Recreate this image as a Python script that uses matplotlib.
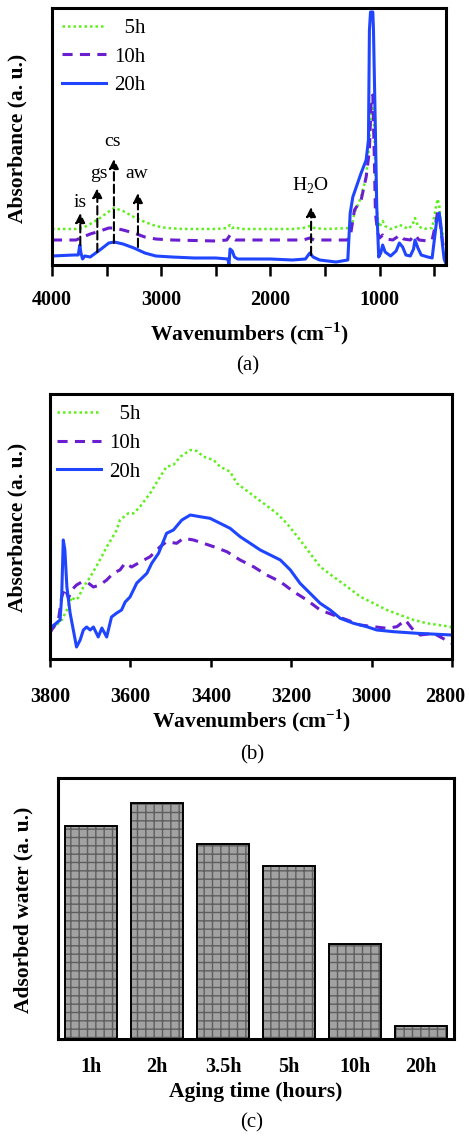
import matplotlib
matplotlib.use("Agg")
import matplotlib.pyplot as plt
from matplotlib.ticker import MultipleLocator, FixedLocator
from matplotlib.transforms import ScaledTranslation

plt.rcParams['font.family'] = ['Liberation Serif', 'DejaVu Serif']
plt.rcParams['mathtext.fontset'] = 'custom'
plt.rcParams['mathtext.rm'] = 'Liberation Serif'
plt.rcParams['mathtext.bf'] = 'Liberation Serif:bold'

# ---------------- data: panel (a) ----------------
wn_a_5h = [4000, 3780, 3720, 3650, 3560, 3500, 3430, 3350, 3250, 3150, 3050, 2950, 2800, 2500,
           2400, 2370, 2350, 2320, 2280, 2000, 1800, 1700, 1640, 1600, 1500, 1261, 1231, 1170,
           1124, 1100, 1084, 1072, 1057, 1045, 1033, 1018, 1003, 985, 973, 950, 900, 850, 820,
           790, 740, 700, 677, 650, 600, 520, 490, 470, 455, 440, 420, 400]
abs_a_5h = [36, 36, 37, 41, 47, 52, 57, 54, 48, 43, 39, 37, 36, 36,
            37, 40, 37, 38, 36, 36, 36, 37, 39, 37, 36, 37, 52, 68,
            88, 115, 142, 162, 155, 112, 65, 45, 38, 42, 44, 39, 36, 38, 40,
            39, 36, 40, 47, 39, 36, 37, 55, 66, 60, 40, 30, 28]

wn_a_10h = [4000, 3780, 3740, 3650, 3560, 3480, 3430, 3350, 3250, 3150, 3050, 2900, 2500, 2400,
            2370, 2350, 2320, 2000, 1700, 1640, 1600, 1300, 1270, 1231, 1170, 1124, 1094,
            1078, 1063, 1048, 1039, 1018, 1000, 973, 940, 880, 840, 820, 780, 720, 690, 677,
            640, 560, 520, 490, 470, 455, 440, 420, 400]
abs_a_10h = [25, 25, 27, 31, 34, 37, 37, 35, 32, 28, 26, 25, 24, 25,
             30, 27, 25, 25, 25, 27, 25, 25, 28, 55, 65, 88, 115,
             165, 170, 102, 52, 32, 27, 30, 26, 25, 28, 30, 26, 25, 29, 30,
             25, 24, 25, 40, 53, 50, 35, 20, 15]

wn_a_20h = [4000, 3800, 3760, 3745, 3735, 3720, 3700, 3650, 3600, 3550, 3480, 3430, 3350, 3250,
            3150, 3050, 2900, 2700, 2500, 2390, 2380, 2370, 2350, 2330, 2300, 2200, 2000, 1800,
            1680, 1640, 1610, 1550, 1400, 1292, 1270, 1246, 1170, 1124, 1103, 1094, 1084,
            1063, 1057, 1039, 1027, 1009, 990, 973, 950, 900, 850, 820, 790, 760, 720, 690,
            677, 650, 620, 560, 520, 500, 480, 455, 440, 425, 410, 400]
abs_a_20h = [9, 10, 10, 20, 12, 6, 9, 8, 12, 16, 22, 23, 21, 17,
             12, 9, 8, 7, 7, 6, 0, 16, 14, 8, 6, 6, 6, 5,
             6, 12, 8, 5, 3, 5, 52, 68, 92, 105, 125, 235, 253,
             253, 235, 132, 58, 8, 12, 20, 13, 9, 14, 22, 18, 10, 9, 16,
             25, 17, 10, 8, 7, 25, 43, 52, 40, 20, 6, 3]

arrow_wn = [3741, 3585, 3433, 3213, 1628]
arrow_base = [20, 13, 22, 18, 10]
arrow_tip = [52, 77, 106, 72, 58]
arrow_text = ['is', 'gs', 'cs', 'aw', 'H$_2$O']
text_wn = [3741, 3573, 3445, 3226, 1634]
text_h = [63, 92, 123, 92, 79]

# ---------------- data: panel (b) ----------------
wn_b_5h = [3800, 3796, 3771, 3758, 3746, 3738, 3730, 3717, 3700, 3680, 3659, 3634, 3626, 3605,
           3592, 3576, 3551, 3526, 3510, 3493, 3476, 3451, 3435, 3418, 3393, 3377, 3352, 3335,
           3302, 3269, 3236, 3211, 3178, 3153, 3128, 3095, 3061, 3028, 2995, 2962, 2929, 2895,
           2862, 2804, 2800]
abs_b_5h = [26, 29, 39, 49, 62, 59, 61, 72, 82, 96, 112, 129, 139, 145.7,
            145.7, 152.3, 165.7, 182.3, 192.3, 194, 202.3, 209, 208, 202.3, 199, 192.3, 187.3, 175.7,
            165.7, 155.7, 145.7, 135.7, 119, 105.7, 92.3, 82.3, 72.3, 62.3, 55.7, 49, 44, 39,
            35.7, 32.3, 30]

wn_b_10h = [3800, 3796, 3779, 3771, 3763, 3754, 3746, 3734, 3721, 3705, 3692, 3676, 3659, 3642,
            3626, 3613, 3597, 3580, 3551, 3526, 3510, 3485, 3468, 3443, 3418, 3393, 3360, 3327,
            3294, 3261, 3227, 3194, 3161, 3128, 3095, 3061, 3028, 2995, 2962, 2937, 2916, 2900,
            2879, 2846, 2800]
abs_b_10h = [26, 29, 39, 62, 71, 61, 69, 74, 77, 76, 72, 74, 79, 86,
             89, 96, 92, 96, 102.3, 112.3, 117.3, 115.7, 120.7, 119, 115.7, 112.3, 107.3, 99,
             92.3, 84, 77.3, 67.3, 59, 49, 44, 39, 34, 32.3, 30.7, 32.3, 39, 30.7,
             24, 25.7, 15.7]

wn_b_20h = [3800, 3796, 3775, 3771, 3767, 3763, 3758, 3750, 3742, 3734, 3725, 3717, 3709, 3700,
            3692, 3680, 3671, 3659, 3647, 3634, 3622, 3613, 3601, 3584, 3559, 3547, 3530, 3510,
            3493, 3472, 3451, 3427, 3402, 3377, 3352, 3327, 3302, 3277, 3252, 3227, 3202, 3178,
            3153, 3128, 3103, 3078, 3045, 3012, 2987, 2945, 2887, 2800]
abs_b_20h = [30, 32, 39, 62, 119, 109, 72, 46, 29, 12, 19, 29, 32, 29,
             32, 22, 31, 22, 42, 46, 49, 57, 62, 76, 85.7, 95.7, 105.7, 125.7,
             129, 139, 144, 142.3, 140.7, 135.7, 130.7, 122.3, 115.7, 109, 104, 99, 89, 75.7,
             65.7, 55.7, 49, 40.7, 35.7, 32.3, 29, 27.3, 25.7, 24]

# ---------------- data: panel (c) ----------------
aging_labels = ['1h', '2h', '3.5h', '5h', '10h', '20h']
adsorbed_water = [213, 236, 195, 173, 95, 13]

series_labels = ['  5h', '10h', '20h']
c_green = '#5cf01a'
c_purple = '#6a1ed0'
c_blue = '#1f45ff'

FS_TICK = 14.5
FS_LABEL = 15.5
FS_LEG = 15
FS_NOTE = 14

W, H = 469, 1137
fig = plt.figure(figsize=(W / 100, H / 100), dpi=100)


def axes_px(left, top, right, bottom):
    return fig.add_axes([left / W, 1 - bottom / H, (right - left) / W, (bottom - top) / H])


def style_spines(ax, lw=2.2):
    for s in ax.spines.values():
        s.set_linewidth(lw)
        s.set_color('black')
    ax.set_yticks([])


def draw_series(ax, xs, ys):
    ax.plot(xs[0], ys[0], color=c_green, lw=1.8, ls=(0, (1, 1.2)), label=series_labels[0])
    ax.plot(xs[1], ys[1], color=c_purple, lw=2.2, ls=(0, (3.3, 2.4)), label=series_labels[1])
    ax.plot(xs[2], ys[2], color=c_blue, lw=2.2, ls='-', label=series_labels[2])


def add_legend(ax, anchor):
    ax.legend(loc='upper left', bbox_to_anchor=anchor, frameon=False, fontsize=FS_LEG,
              handlelength=2.1, handletextpad=0.42, labelspacing=0.44,
              borderpad=0, borderaxespad=0)


def set_ylab(ax, text, xfrac, yfrac):
    ax.set_ylabel(text, fontsize=FS_LABEL, fontweight='bold')
    ax.yaxis.set_label_coords(xfrac, yfrac)
    ax.yaxis.label.set_va('center')
    ax.yaxis.label.set_ha('center')

# ---------- (a) ----------
axa = axes_px(52, 8, 446, 265)
draw_series(axa, [wn_a_5h, wn_a_10h, wn_a_20h], [abs_a_5h, abs_a_10h, abs_a_20h])
axa.set_xlim(4000, 393)
axa.set_ylim(0, 257)
style_spines(axa)
axa.xaxis.set_major_locator(FixedLocator([4000, 3000, 2000, 1000]))
axa.xaxis.set_minor_locator(FixedLocator([3500, 2500, 1500, 500]))
axa.tick_params(axis='x', which='both', direction='out', length=8, width=1.8, pad=10)
for t in axa.get_xticklabels():
    t.set_fontweight('bold')
    t.set_fontsize(FS_TICK)
axa.set_xlabel('Wavenumbers (cm$^{\\mathbf{-1}}$)', fontsize=FS_LABEL, fontweight='bold')
axa.xaxis.set_label_coords(0.5, -0.268)
axa.xaxis.label.set_va('center')
set_ylab(axa, 'Absorbance (a. u.)', -0.088, 0.494)
for xw, b, tp in zip(arrow_wn, arrow_base, arrow_tip):
    axa.annotate('', xy=(xw, tp), xytext=(xw, b),
                 arrowprops=dict(arrowstyle='-|>', color='black', lw=1.5, ls=(0, (4, 2)),
                                 mutation_scale=14, shrinkA=0, shrinkB=0))
for xw, h, s in zip(text_wn, text_h, arrow_text):
    axa.text(xw, h, s, fontsize=FS_NOTE, ha='center', va='center')
add_legend(axa, (0.025, 0.96))
fig.text(248 / W, 1 - 366 / H, '(a)', fontsize=15, ha='center', va='center')

# ---------- (b) ----------
axb = axes_px(50, 394, 452, 659)
draw_series(axb, [wn_b_5h, wn_b_10h, wn_b_20h], [abs_b_5h, abs_b_10h, abs_b_20h])
axb.set_xlim(3800, 2800)
axb.set_ylim(0, 265)
style_spines(axb)
axb.xaxis.set_major_locator(MultipleLocator(200))
axb.tick_params(axis='x', which='both', direction='out', length=6, width=1.8, pad=14)
for t in axb.get_xticklabels():
    t.set_fontweight('bold')
    t.set_fontsize(FS_TICK)
fig.canvas.draw()
for t in axb.get_xticklabels():
    if t.get_text() == '2800':
        t.set_transform(t.get_transform() + ScaledTranslation(-7 / 100, 0, fig.dpi_scale_trans))
axb.set_xlabel('Wavenumbers (cm$^{\\mathbf{-1}}$)', fontsize=FS_LABEL, fontweight='bold')
axb.xaxis.set_label_coords(0.5, -0.232)
axb.xaxis.label.set_va('center')
set_ylab(axb, 'Absorbance (a. u.)', -0.081, 0.498)
add_legend(axb, (0.017, 0.96))
fig.text(252 / W, 1 - 755 / H, '(b)', fontsize=15, ha='center', va='center')

# ---------- (c) ----------
axc = axes_px(58, 778, 454, 1039)
xpos = list(range(len(aging_labels)))
plt.rcParams['hatch.linewidth'] = 1.0
axc.bar(xpos, adsorbed_water, width=0.79, color='#a2a2a2', edgecolor='#5e5e5e',
        hatch='++', linewidth=0, zorder=2)
axc.bar(xpos, adsorbed_water, width=0.79, fill=False, edgecolor='black', linewidth=1.4, zorder=3)
axc.set_xlim(-0.5, 5.5)
axc.set_ylim(0, 261)
style_spines(axc)
axc.set_xticks(xpos)
axc.set_xticklabels(aging_labels, fontsize=FS_TICK, fontweight='bold')
axc.tick_params(axis='x', length=0, pad=13)
axc.set_xlabel('Aging time (hours)', fontsize=FS_LABEL, fontweight='bold')
axc.xaxis.set_label_coords(0.5, -0.203)
axc.xaxis.label.set_va('center')
set_ylab(axc, 'Adsorbed water (a. u.)', -0.086, 0.494)
fig.text(252 / W, 1 - 1123 / H, '(c)', fontsize=15, ha='center', va='center')

fig.savefig('out.png', dpi=100)
